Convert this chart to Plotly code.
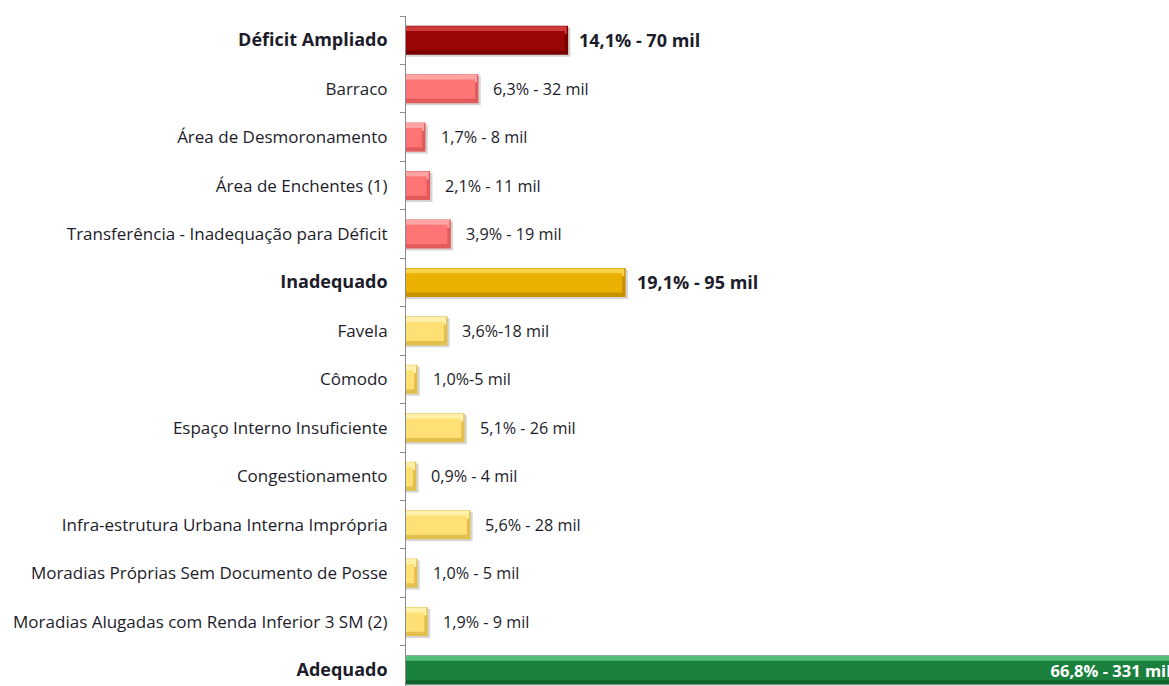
import plotly.graph_objects as go

# Housing situation breakdown: share (%) and number of households
categories = [
    "Déficit Ampliado",
    "Barraco",
    "Área de Desmoronamento",
    "Área de Enchentes (1)",
    "Transferência - Inadequação para Déficit",
    "Inadequado",
    "Favela",
    "Cômodo",
    "Espaço Interno Insuficiente",
    "Congestionamento",
    "Infra-estrutura Urbana Interna Imprópria",
    "Moradias Próprias Sem Documento de Posse",
    "Moradias Alugadas com Renda Inferior 3 SM (2)",
    "Adequado",
]
percent = [14.1, 6.3, 1.7, 2.1, 3.9, 19.1, 3.6, 1.0, 5.1, 0.9, 5.6, 1.0, 1.9, 66.8]
value_labels = [
    "14,1% - 70 mil",
    "6,3% - 32 mil",
    "1,7% - 8 mil",
    "2,1% - 11 mil",
    "3,9% - 19 mil",
    "19,1% - 95 mil",
    "3,6%-18 mil",
    "1,0%-5 mil",
    "5,1% - 26 mil",
    "0,9% - 4 mil",
    "5,6% - 28 mil",
    "1,0% - 5 mil",
    "1,9% - 9 mil",
    "66,8% - 331 mil",
]
group = ["deficit", "red", "red", "red", "red", "inad", "yellow", "yellow",
         "yellow", "yellow", "yellow", "yellow", "yellow", "adeq"]

# bevel palette per group: (edge, face, highlight)
palette = {
    "deficit": ("#7a0000", "#9a0505", "#cf3b3b"),
    "red": ("#e25a5a", "#ff7474", "#ffa3a3"),
    "inad": ("#c69200", "#ebb102", "#f7d24a"),
    "yellow": ("#e3bf4c", "#ffe074", "#fff1ac"),
    "adeq": ("#10622c", "#1b7f3d", "#55bf7c"),
}
headers = {"deficit", "inad", "adeq"}

pos = list(range(len(categories)))
edge = [palette[g][0] for g in group]
face = [palette[g][1] for g in group]
hilite = [palette[g][2] for g in group]

FONT = "'Open Sans', Lato, sans-serif"
TXT = "#1c1c2a"
CAT = 17
VAL = 16.2
BOLD = 18

fig = go.Figure()

# soft drop shadow
fig.add_trace(go.Bar(
    x=[v + 0.2 for v in percent], y=pos, orientation="h",
    offset=-0.26, width=0.6,
    marker=dict(color="rgba(0,0,0,0.16)", line=dict(width=0)),
    hoverinfo="skip", showlegend=False,
))
# bar body (darker rim)
fig.add_trace(go.Bar(
    x=percent, y=pos, orientation="h",
    offset=-0.3, width=0.6,
    marker=dict(color=edge, line=dict(width=0)),
    hoverinfo="skip", showlegend=False,
))
# top highlight strip
fig.add_trace(go.Bar(
    x=[v - 0.12 for v in percent], y=pos, orientation="h",
    offset=-0.29, width=0.16,
    marker=dict(color=hilite, line=dict(width=0)),
    hoverinfo="skip", showlegend=False,
))
# bar face
fig.add_trace(go.Bar(
    x=[v - 0.3 for v in percent], y=pos, orientation="h",
    offset=-0.19, width=0.4,
    marker=dict(color=face, line=dict(width=0)),
    hoverinfo="skip", showlegend=False,
))
# value label inside the long green bar
fig.add_trace(go.Bar(
    x=[percent[-1]], y=[pos[-1]], orientation="h",
    offset=-0.3, width=0.6,
    marker=dict(color="rgba(0,0,0,0)", line=dict(width=0)),
    text=[f"<b>{value_labels[-1]}</b>"], textposition="inside",
    insidetextanchor="end", constraintext="none",
    textfont=dict(family=FONT, size=16.5, color="white"),
    textangle=0, cliponaxis=True,
    hoverinfo="skip", showlegend=False,
))

# value labels to the right of the other bars
for i, (p, lab, g) in enumerate(zip(percent, value_labels, group)):
    if g == "adeq":
        continue
    bold = g in headers
    fig.add_annotation(
        x=p, y=i, xref="x", yref="y",
        text=f"<b>{lab}</b>" if bold else lab,
        showarrow=False, xanchor="left", yanchor="middle",
        xshift=9 if bold else 13,
        font=dict(family=FONT, size=BOLD if bold else VAL, color=TXT),
    )

ticktext = [
    f"<span style='font-size:{BOLD}px'><b>{c}</b></span>" if g in headers else c
    for c, g in zip(categories, group)
]

fig.update_layout(
    width=1169, height=686,
    margin=dict(l=406, r=0, t=16, b=0),
    paper_bgcolor="white", plot_bgcolor="white",
    barmode="overlay",
    font=dict(family=FONT, size=CAT, color=TXT),
    xaxis=dict(range=[0, 66.35], visible=False, fixedrange=True),
    yaxis=dict(
        range=[13.33, -0.5], tickmode="array", tickvals=pos, ticktext=ticktext,
        showline=True, linecolor="#8a8a8a", linewidth=1,
        ticks="", ticklabelstandoff=14, showgrid=False, zeroline=False,
        minor=dict(tickmode="array", tickvals=[i - 0.5 for i in pos],
                   ticks="outside", ticklen=5, tickcolor="#8a8a8a", tickwidth=1),
        fixedrange=True,
    ),
)

fig.write_html("out.html", config={"displayModeBar": False})
